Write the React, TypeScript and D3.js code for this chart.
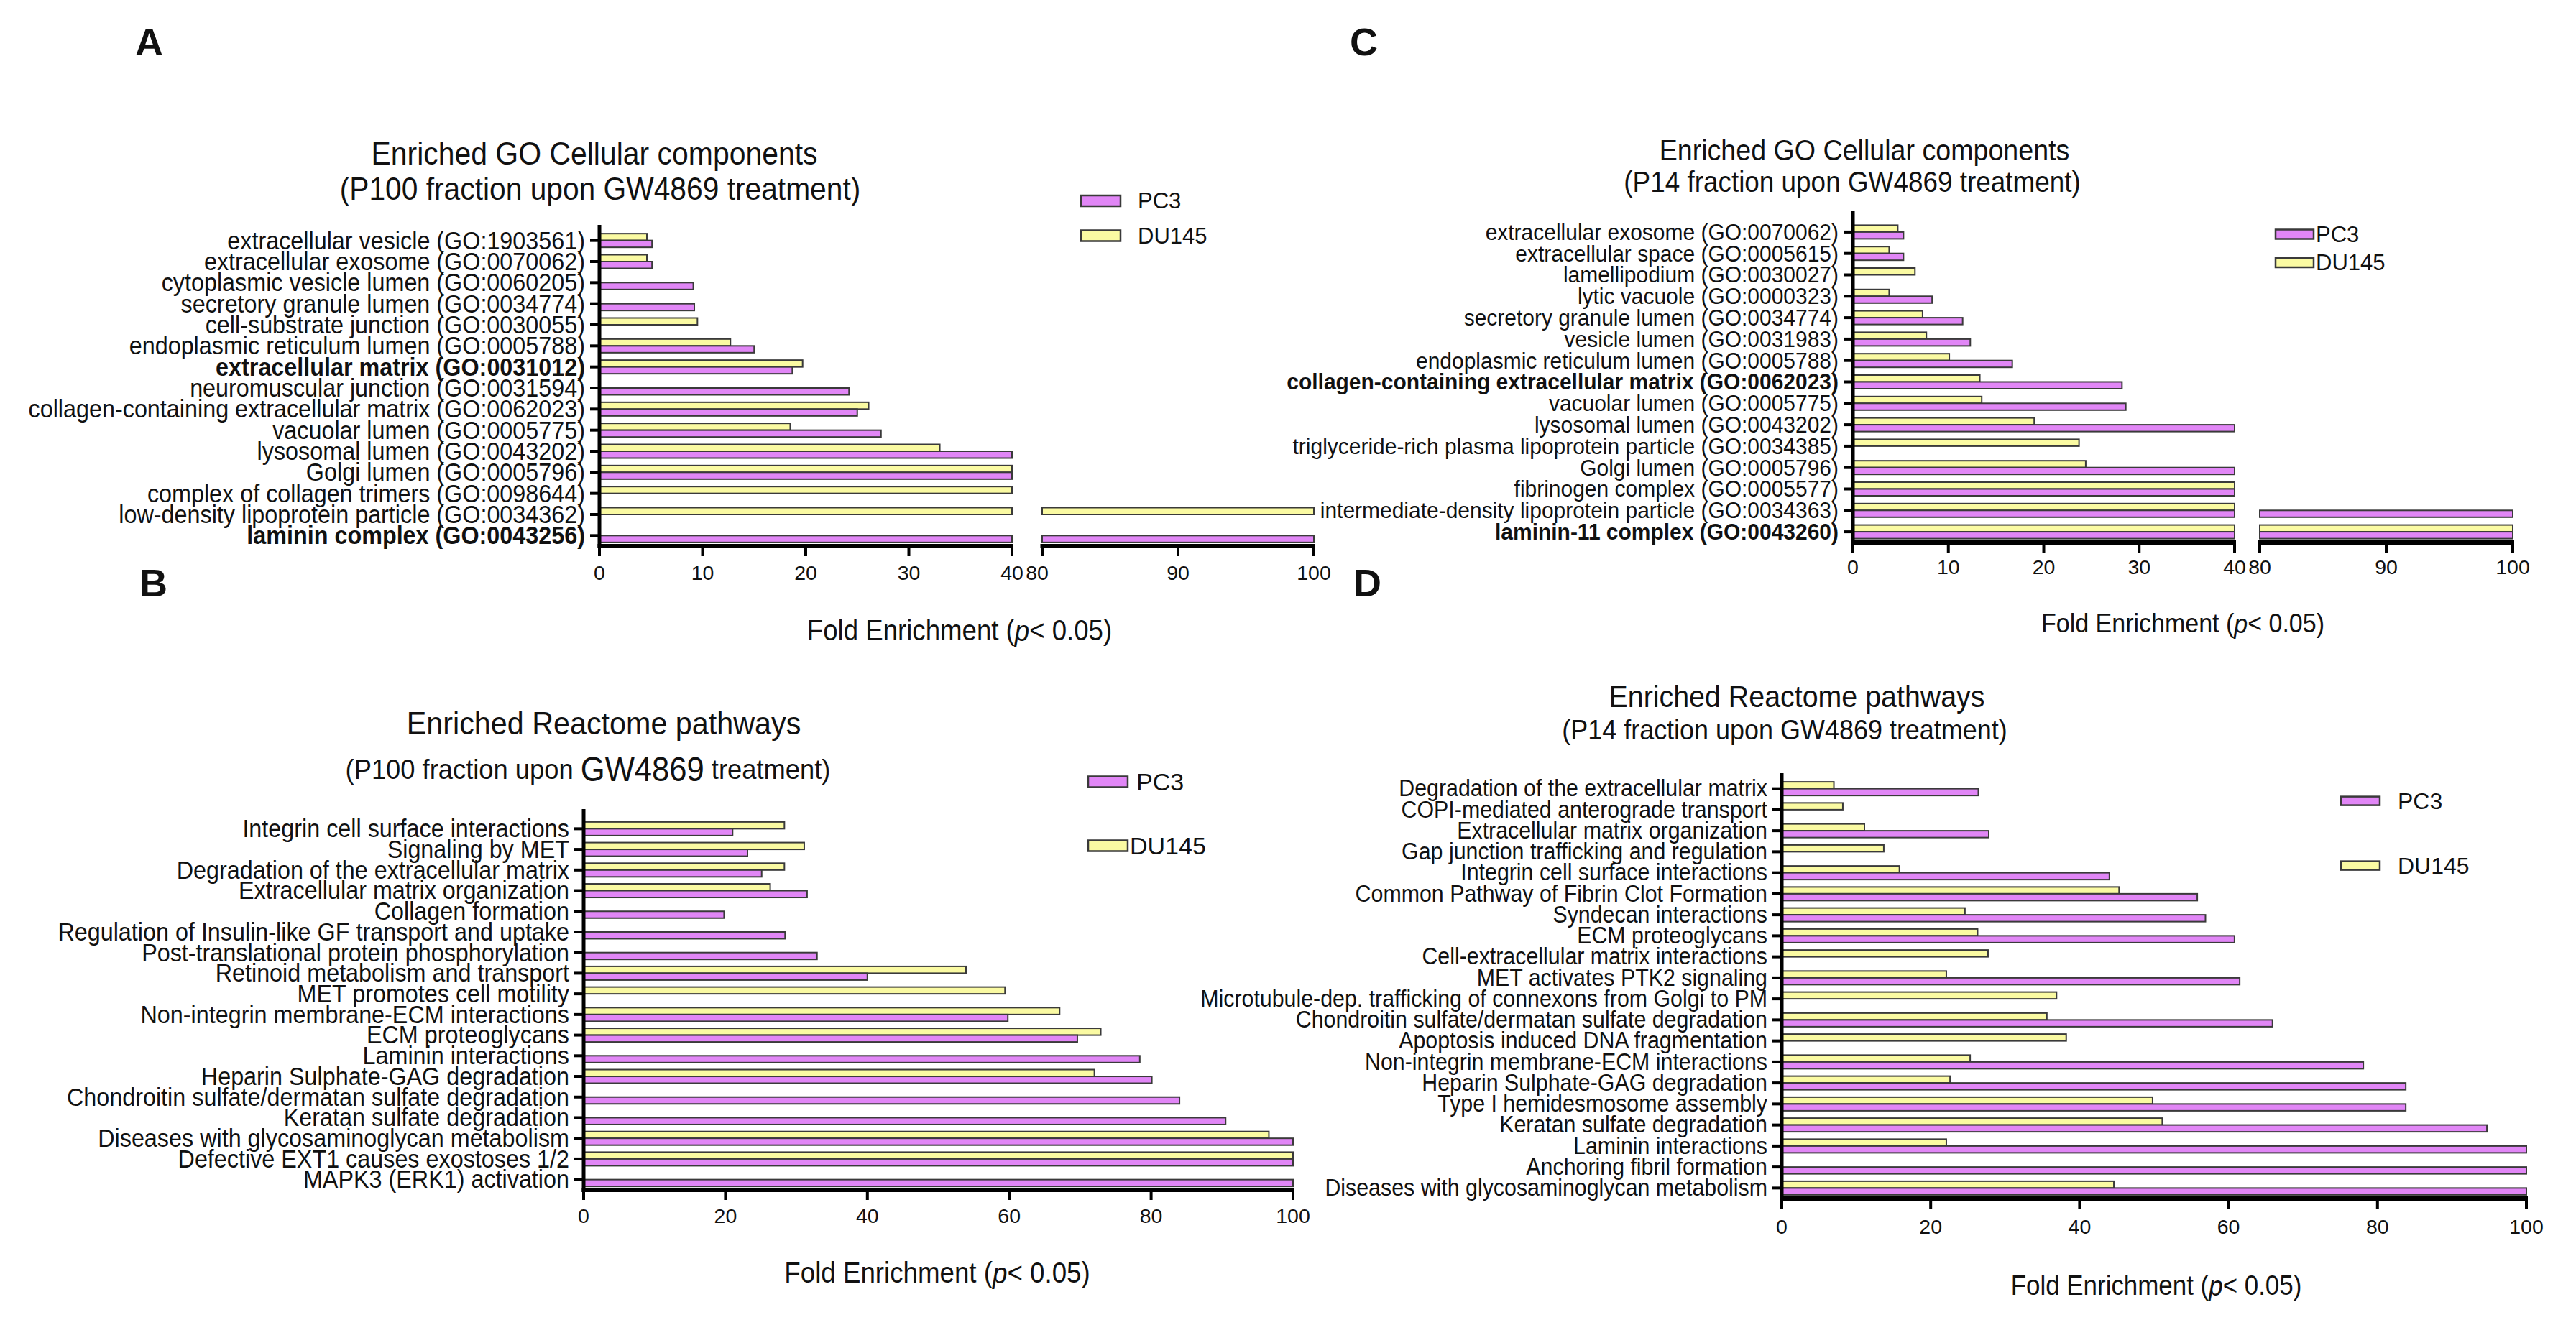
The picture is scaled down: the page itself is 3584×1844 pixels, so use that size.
import React from "react";
import * as d3 from "d3";

// ---- data ----
// A: GO cellular components, P100 fraction
const goP100Terms = [
  "extracellular vesicle (GO:1903561)",
  "extracellular exosome (GO:0070062)",
  "cytoplasmic vesicle lumen (GO:0060205)",
  "secretory granule lumen (GO:0034774)",
  "cell-substrate junction (GO:0030055)",
  "endoplasmic reticulum lumen (GO:0005788)",
  "extracellular matrix (GO:0031012)",
  "neuromuscular junction (GO:0031594)",
  "collagen-containing extracellular matrix (GO:0062023)",
  "vacuolar lumen (GO:0005775)",
  "lysosomal lumen (GO:0043202)",
  "Golgi lumen (GO:0005796)",
  "complex of collagen trimers (GO:0098644)",
  "low-density lipoprotein particle (GO:0034362)",
  "laminin complex (GO:0043256)",
];
const goP100PC3 = [5.1, 5.1, 9.1, 9.2, null, 15.0, 18.7, 24.2, 25.0, 27.3, 55.4, 52.8, null, null, 100];
const goP100DU145 = [4.6, 4.6, null, null, 9.5, 12.7, 19.7, null, 26.1, 18.5, 33.0, 50.6, 58.1, 100, null];
const goP100Bold = ["extracellular matrix (GO:0031012)", "laminin complex (GO:0043256)"];

// C: GO cellular components, P14 fraction
const goP14Terms = [
  "extracellular exosome (GO:0070062)",
  "extracellular space (GO:0005615)",
  "lamellipodium (GO:0030027)",
  "lytic vacuole (GO:0000323)",
  "secretory granule lumen (GO:0034774)",
  "vesicle lumen (GO:0031983)",
  "endoplasmic reticulum lumen (GO:0005788)",
  "collagen-containing extracellular matrix (GO:0062023)",
  "vacuolar lumen (GO:0005775)",
  "lysosomal lumen (GO:0043202)",
  "triglyceride-rich plasma lipoprotein particle (GO:0034385)",
  "Golgi lumen (GO:0005796)",
  "fibrinogen complex (GO:0005577)",
  "intermediate-density lipoprotein particle (GO:0034363)",
  "laminin-11 complex (GO:0043260)",
];
const goP14PC3 = [5.3, 5.3, null, 8.3, 11.5, 12.3, 16.7, 28.2, 28.6, 48.9, null, 51.3, 61.2, 100, 100];
const goP14DU145 = [4.7, 3.8, 6.5, 3.8, 7.3, 7.7, 10.1, 13.3, 13.5, 19.0, 23.7, 24.4, 57.5, 64.0, 100];
const goP14Bold = ["collagen-containing extracellular matrix (GO:0062023)", "laminin-11 complex (GO:0043260)"];

// B: Reactome pathways, P100 fraction
const reP100Terms = [
  "Integrin cell surface interactions",
  "Signaling by MET",
  "Degradation of the extracellular matrix",
  "Extracellular matrix organization",
  "Collagen formation",
  "Regulation of Insulin-like GF transport and uptake",
  "Post-translational protein phosphorylation",
  "Retinoid metabolism and transport",
  "MET promotes cell motility",
  "Non-integrin membrane-ECM interactions",
  "ECM proteoglycans",
  "Laminin interactions",
  "Heparin Sulphate-GAG degradation",
  "Chondroitin sulfate/dermatan sulfate degradation",
  "Keratan sulfate degradation",
  "Diseases with glycosaminoglycan metabolism",
  "Defective EXT1 causes exostoses 1/2",
  "MAPK3 (ERK1) activation",
];
const reP100PC3 = [21.0, 23.1, 25.1, 31.5, 19.8, 28.4, 32.9, 40.0, null, 59.8, 69.6, 78.4, 80.1, 84.0, 90.5, 100, 100, 100];
const reP100DU145 = [28.3, 31.1, 28.3, 26.3, null, null, null, 53.9, 59.4, 67.1, 72.9, null, 72.0, null, null, 96.6, 100, null];

// D: Reactome pathways, P14 fraction
const reP14Terms = [
  "Degradation of the extracellular matrix",
  "COPI-mediated anterograde transport",
  "Extracellular matrix organization",
  "Gap junction trafficking and regulation",
  "Integrin cell surface interactions",
  "Common Pathway of Fibrin Clot Formation",
  "Syndecan interactions",
  "ECM proteoglycans",
  "Cell-extracellular matrix interactions",
  "MET activates PTK2 signaling",
  "Microtubule-dep. trafficking of connexons from Golgi to PM",
  "Chondroitin sulfate/dermatan sulfate degradation",
  "Apoptosis induced DNA fragmentation",
  "Non-integrin membrane-ECM interactions",
  "Heparin Sulphate-GAG degradation",
  "Type I hemidesmosome assembly",
  "Keratan sulfate degradation",
  "Laminin interactions",
  "Anchoring fibril formation",
  "Diseases with glycosaminoglycan metabolism",
];
const reP14PC3 = [26.4, null, 27.8, null, 44.0, 55.8, 56.9, 60.8, null, 61.5, null, 65.9, null, 78.1, 83.8, 83.8, 94.7, 100, 100, 100];
const reP14DU145 = [7.0, 8.2, 11.1, 13.7, 15.8, 45.3, 24.6, 26.3, 27.7, 22.1, 36.9, 35.6, 38.2, 25.3, 22.6, 49.8, 51.1, 22.1, null, 44.6];

const brokenTicksLow = [0, 10, 20, 30, 40];
const brokenTicksHigh = [80, 90, 100];
const fullTicks = [0, 20, 40, 60, 80, 100];

// ---- styling ----
const PURPLE = "#e186f6";
const YELLOW = "#fafaa2";
const EDGE = "#3a3a3a";
const FONT = "'Liberation Sans', Arial, Helvetica, sans-serif";
const LABEL_SX = 0.94;

type Seg = { domain: [number, number]; range: [number, number]; ticks: number[]; labelShift?: number[] };

type TitleLine = { parts: { text: string; scale?: number }[]; x: number; y: number; size: number };

type PanelSpec = {
  letter: string;
  letterPos: [number, number];
  titles: TitleLine[];
  terms: string[];
  pc3: (number | null)[];
  du145: (number | null)[];
  bold: string[];
  band: [number, number];
  axisTop: number;
  segments: Seg[];
  labelSize: number;
  tickY: number;
  fold: { x: number; y: number; size: number };
  legend: { x: number; w: number; h: number; y1: number; y2: number; tx1: number; tx2: number; size: number };
};

const panels: PanelSpec[] = [
  {
    letter: "A",
    letterPos: [188, 77],
    titles: [
      { parts: [{ text: "Enriched GO Cellular components" }], x: 827, y: 213, size: 44.5 },
      { parts: [{ text: "(P100 fraction upon GW4869 treatment)" }], x: 835, y: 262, size: 44.3 },
    ],
    terms: goP100Terms,
    pc3: goP100PC3,
    du145: goP100DU145,
    bold: goP100Bold,
    band: [320, 760],
    axisTop: 313,
    segments: [
      { domain: [0, 40], range: [834, 1408], ticks: brokenTicksLow },
      { domain: [80, 100], range: [1450, 1828], ticks: brokenTicksHigh, labelShift: [-7, 0, 0] },
    ],
    labelSize: 34.4,
    tickY: 797,
    fold: { x: 1335, y: 877, size: 40.7 },
    legend: { x: 1504, w: 55, h: 15, y1: 279.5, y2: 328, tx1: 1583, tx2: 1583, size: 31 },
  },
  {
    letter: "C",
    letterPos: [1878, 77],
    titles: [
      { parts: [{ text: "Enriched GO Cellular components" }], x: 2594, y: 208, size: 40.9 },
      { parts: [{ text: "(P14 fraction upon GW4869 treatment)" }], x: 2577, y: 252, size: 40.1 },
    ],
    terms: goP14Terms,
    pc3: goP14PC3,
    du145: goP14DU145,
    bold: goP14Bold,
    band: [308, 755],
    axisTop: 293,
    segments: [
      { domain: [0, 40], range: [2578, 3109], ticks: brokenTicksLow },
      { domain: [80, 100], range: [3144, 3496], ticks: brokenTicksHigh },
    ],
    labelSize: 31.9,
    tickY: 789,
    fold: { x: 3037, y: 867, size: 37.8 },
    legend: { x: 3166, w: 53, h: 13, y1: 326, y2: 365.5, tx1: 3222, tx2: 3222, size: 31 },
  },
  {
    letter: "B",
    letterPos: [194, 830],
    titles: [
      { parts: [{ text: "Enriched Reactome pathways" }], x: 840, y: 1006, size: 44.9 },
      {
        parts: [
          { text: "(P100 fraction upon " },
          { text: "GW4869", scale: 1.2 },
          { text: " treatment)" },
        ],
        x: 818,
        y: 1070,
        size: 39.5,
      },
    ],
    terms: reP100Terms,
    pc3: reP100PC3,
    du145: reP100DU145,
    bold: [],
    band: [1139, 1656],
    axisTop: 1126,
    segments: [{ domain: [0, 100], range: [812, 1799], ticks: fullTicks }],
    labelSize: 34.4,
    tickY: 1692,
    fold: { x: 1304, y: 1771, size: 40.8 },
    legend: { x: 1514, w: 55, h: 15, y1: 1088, y2: 1177, tx1: 1581, tx2: 1572, size: 34 },
  },
  {
    letter: "D",
    letterPos: [1883, 830],
    titles: [
      { parts: [{ text: "Enriched Reactome pathways" }], x: 2500, y: 969, size: 42.8 },
      { parts: [{ text: "(P14 fraction upon GW4869 treatment)" }], x: 2483, y: 1015, size: 39.1 },
    ],
    terms: reP14Terms,
    pc3: reP14PC3,
    du145: reP14DU145,
    bold: [],
    band: [1083, 1668],
    axisTop: 1076,
    segments: [{ domain: [0, 100], range: [2479, 3515], ticks: fullTicks }],
    labelSize: 32.3,
    tickY: 1707,
    fold: { x: 3000, y: 1789, size: 38.8 },
    legend: { x: 3257, w: 54, h: 12, y1: 1114.6, y2: 1204.6, tx1: 3336, tx2: 3336, size: 32 },
  },
];

const Panel = ({ spec }: { spec: PanelSpec }) => {
  const y = d3.scaleBand<string>().domain(spec.terms).range(spec.band).padding(0);
  const segs = spec.segments.map((s) => ({
    ...s,
    scale: d3.scaleLinear().domain(s.domain).range(s.range).clamp(true),
  }));
  const x0 = spec.segments[0].range[0];
  const baseline = spec.band[1];
  const bh = 9.5;
  const mid = (t: string) => (y(t) as number) + y.bandwidth() / 2;

  const series = [
    { key: "du", vals: spec.du145, fill: YELLOW, off: -bh },
    { key: "pc", vals: spec.pc3, fill: PURPLE, off: 0 },
  ];

  return (
    <g fontFamily={FONT} fill="#111">
      <text x={spec.letterPos[0]} y={spec.letterPos[1]} fontSize={54} fontWeight="bold">
        {spec.letter}
      </text>
      {spec.titles.map((t, i) => (
        <text
          key={i}
          transform={`translate(${t.x},${t.y}) scale(0.92,1)`}
          textAnchor="middle"
          dominantBaseline="central"
          fontSize={t.size}
        >
          {t.parts.map((p, k) => (
            <tspan key={k} fontSize={t.size * (p.scale || 1)}>
              {p.text}
            </tspan>
          ))}
        </text>
      ))}

      {/* bars */}
      {series.map((s) =>
        spec.terms.map((term, i) => {
          const v = s.vals[i];
          if (v == null) return null;
          const top = mid(term) + s.off;
          return segs.map((sg, j) => {
            if (j > 0 && v <= sg.domain[0]) return null;
            const xa = sg.scale(sg.domain[0]);
            const xb = sg.scale(v);
            return (
              <rect
                key={`${s.key}-${i}-${j}`}
                x={xa}
                y={top}
                width={xb - xa}
                height={bh}
                fill={s.fill}
                stroke={EDGE}
                strokeWidth={2}
              />
            );
          });
        })
      )}

      {/* y axis */}
      <line x1={x0} x2={x0} y1={spec.axisTop} y2={baseline + 3} stroke="#000" strokeWidth={5} />
      {spec.terms.map((term) => (
        <g key={term}>
          <line x1={x0 - 13} x2={x0} y1={mid(term)} y2={mid(term)} stroke="#000" strokeWidth={4} />
          <text
            transform={`translate(${x0 - 20},${mid(term)}) scale(${LABEL_SX},1)`}
            textAnchor="end"
            dominantBaseline="central"
            fontSize={spec.labelSize}
            fontWeight={spec.bold.includes(term) ? "bold" : "normal"}
          >
            {term}
          </text>
        </g>
      ))}

      {/* x axis */}
      {segs.map((sg, j) => (
        <g key={`seg-${j}`}>
          <line
            x1={sg.range[0] - 2.5}
            x2={sg.range[1] + 2}
            y1={baseline}
            y2={baseline}
            stroke="#000"
            strokeWidth={6}
          />
          {sg.ticks.map((t, k) => (
            <g key={t}>
              <line
                x1={sg.scale(t)}
                x2={sg.scale(t)}
                y1={baseline}
                y2={baseline + 14}
                stroke="#000"
                strokeWidth={4}
              />
              <text
                x={sg.scale(t) + (sg.labelShift ? sg.labelShift[k] : 0)}
                y={spec.tickY}
                textAnchor="middle"
                dominantBaseline="central"
                fontSize={28.5}
              >
                {t}
              </text>
            </g>
          ))}
        </g>
      ))}
      <text
        transform={`translate(${spec.fold.x},${spec.fold.y}) scale(0.9,1)`}
        textAnchor="middle"
        dominantBaseline="central"
        fontSize={spec.fold.size}
      >
        Fold Enrichment (<tspan fontStyle="italic">p</tspan>&lt; 0.05)
      </text>

      {/* legend */}
      <rect
        x={spec.legend.x}
        y={spec.legend.y1 - spec.legend.h / 2}
        width={spec.legend.w}
        height={spec.legend.h}
        fill={PURPLE}
        stroke={EDGE}
        strokeWidth={2.5}
      />
      <text x={spec.legend.tx1} y={spec.legend.y1} dominantBaseline="central" fontSize={spec.legend.size}>
        PC3
      </text>
      <rect
        x={spec.legend.x}
        y={spec.legend.y2 - spec.legend.h / 2}
        width={spec.legend.w}
        height={spec.legend.h}
        fill={YELLOW}
        stroke={EDGE}
        strokeWidth={2.5}
      />
      <text x={spec.legend.tx2} y={spec.legend.y2} dominantBaseline="central" fontSize={spec.legend.size}>
        DU145
      </text>
    </g>
  );
};

const App = () => {
  return (
    <svg
      width={3584}
      height={1844}
      style={{ position: "absolute", left: 0, top: 0, background: "#fff" }}
    >
      <rect width={3584} height={1844} fill="#fff" />
      {panels.map((p) => (
        <Panel key={p.letter} spec={p} />
      ))}
    </svg>
  );
};

export default App;
